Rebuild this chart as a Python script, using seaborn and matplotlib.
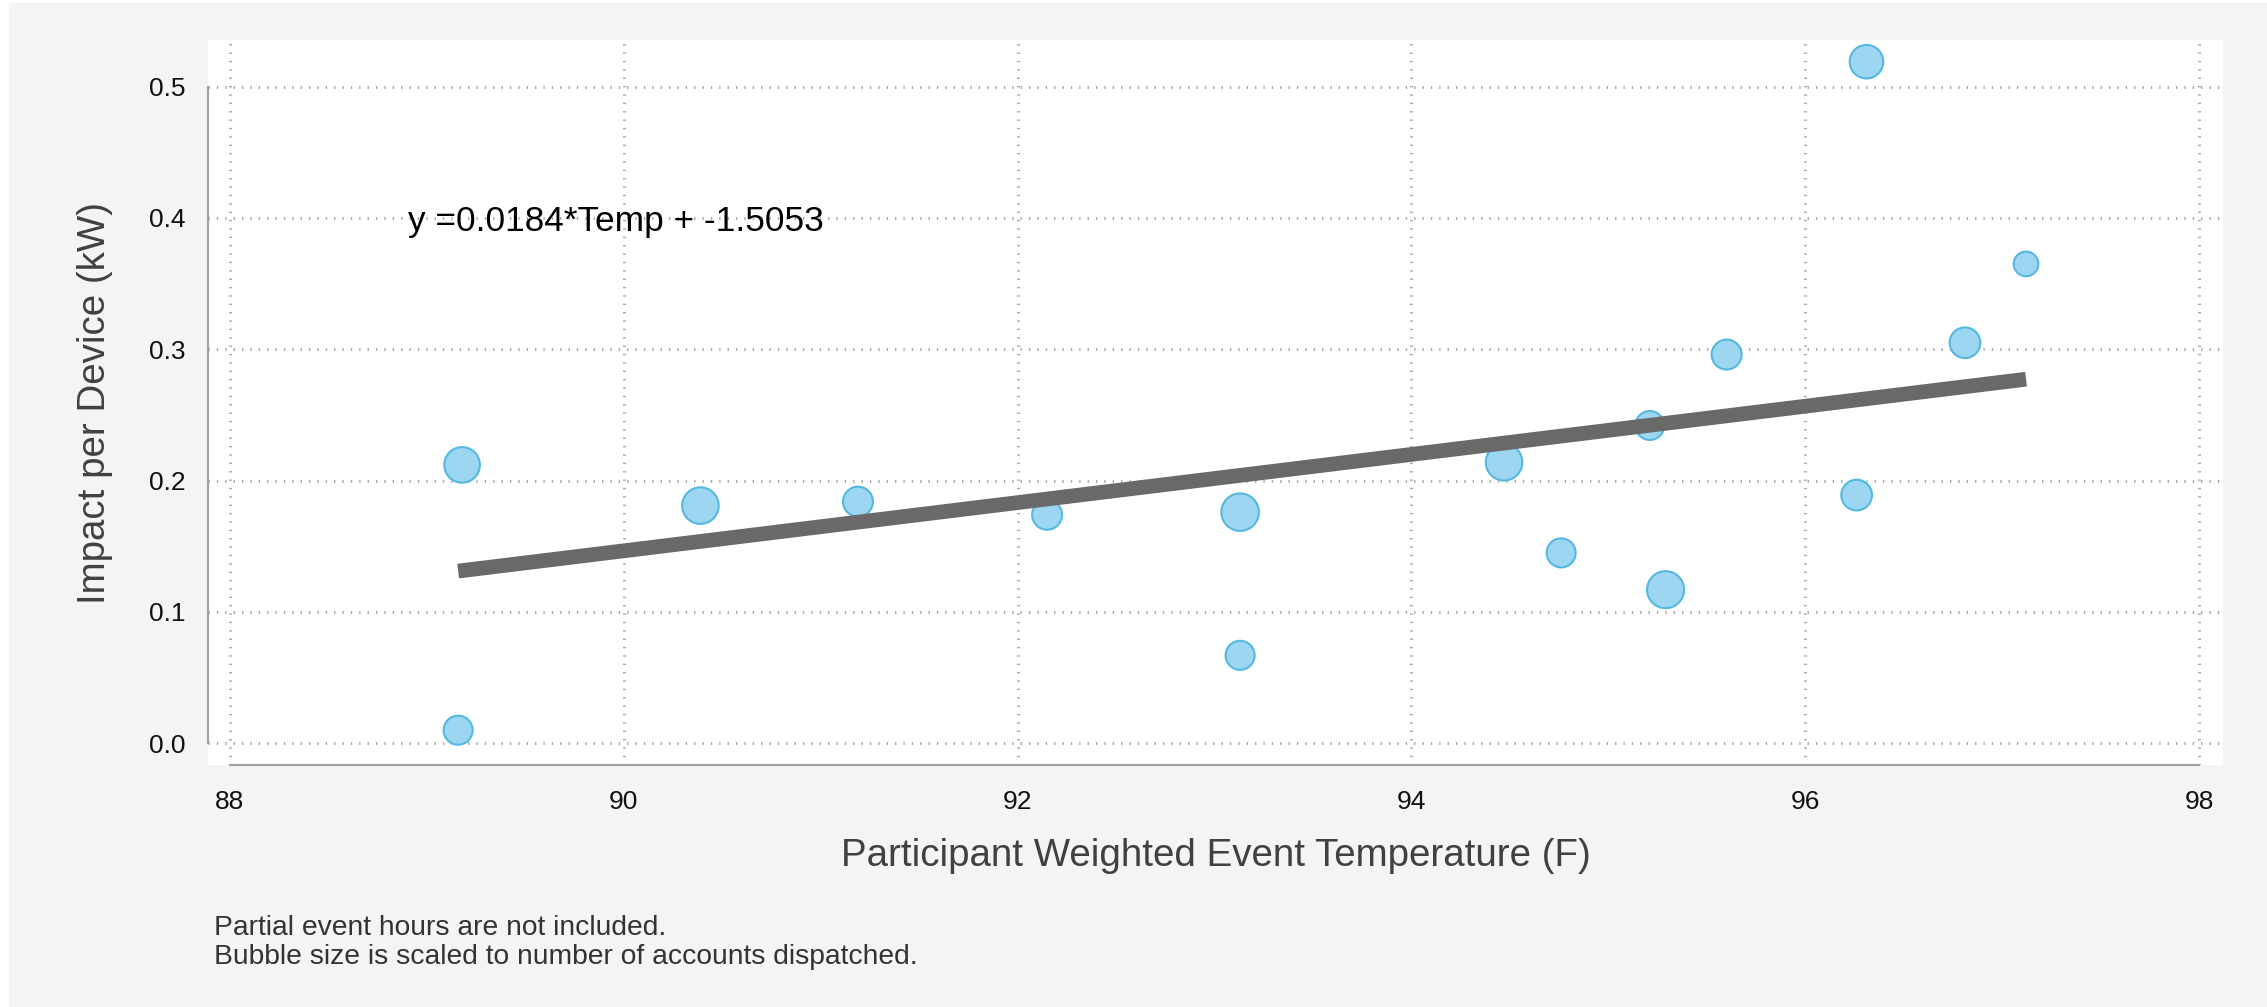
import numpy as np
import pandas as pd
import matplotlib
matplotlib.use("Agg")
import matplotlib.pyplot as plt
from matplotlib.patches import Rectangle
import seaborn as sns

# --- Дані ---
event_temp = [89.18, 89.16, 90.39, 91.19, 92.15, 93.13, 93.13, 94.47, 94.76,
              95.21, 95.29, 95.60, 96.26, 96.31, 96.81, 97.12]
impact_kw = [0.212, 0.010, 0.181, 0.184, 0.174, 0.176, 0.067, 0.214, 0.145,
             0.242, 0.117, 0.296, 0.189, 0.519, 0.305, 0.365]
# відносна кількість акаунтів (за площею бульбашок)
accounts = [1440, 960, 1520, 1020, 1020, 1600, 960, 1520, 960,
            950, 1560, 1020, 1070, 1280, 1070, 690]

fit_slope = 0.018354
fit_intercept = -1.5053

x_ticks = [88, 90, 92, 94, 96, 98]
y_ticks = [0.0, 0.1, 0.2, 0.3, 0.4, 0.5]

x_label = "Participant Weighted Event Temperature (F)"
y_label = "Impact per Device (kW)"
footnote = ("Partial event hours are not included.\n"
            "Bubble size is scaled to number of accounts dispatched.")

# --- Стиль ---
sns.set_style("white")
plt.rcParams['font.family'] = ['Liberation Sans', 'DejaVu Sans']

W, H = 2267, 1007
fig = plt.figure(figsize=(W / 100, H / 100), dpi=100)
fig.patch.set_facecolor('white')
fig.add_artist(Rectangle((9 / W, 0), 1 - 9 / W, 1 - 3 / H, transform=fig.transFigure,
                         facecolor='#f4f4f4', edgecolor='none', zorder=-10))

ax = fig.add_axes([208 / W, 1 - 765 / H, (2223 - 208) / W, (765 - 40) / H])
ax.set_facecolor('white')

df = pd.DataFrame({'temp': event_temp, 'impact': impact_kw, 'accounts': accounts})

# бульбашки
k = 0.456
sns.scatterplot(data=df, x='temp', y='impact', size='accounts',
                sizes=(k * min(accounts), k * max(accounts)),
                size_norm=(min(accounts), max(accounts)),
                color='#9dd6f0', edgecolor='#55b8e2', linewidth=1.5,
                legend=False, ax=ax, zorder=3)

# лінія регресії
fit_x = np.array([df['temp'].min(), df['temp'].max()])
fit_y = fit_slope * fit_x + fit_intercept
sns.lineplot(x=fit_x, y=fit_y, color='#696969', linewidth=10.6,
             solid_capstyle='butt', ax=ax, zorder=4)

ax.text(88.907, 0.397, f"y ={fit_slope:.4f}*Temp + {fit_intercept:.4f}",
        fontsize=25.4, ha='left', va='center', color='black')

# осі
ax.set_xlim(87.89, 98.12)
ax.set_ylim(-0.0165, 0.5355)
ax.set_xticks(x_ticks)
ax.set_yticks(y_ticks)
ax.set_xticklabels([str(t) for t in x_ticks])
ax.set_yticklabels([f"{t:.1f}" for t in y_ticks])

ax.grid(True, color='#ababab', linestyle=(0, (0.45, 2.29)), linewidth=2.2)
ax.set_axisbelow(True)

sns.despine(ax=ax)
ax.spines['left'].set_bounds(0, 0.5)
ax.spines['bottom'].set_bounds(88, 98)
for s in ['left', 'bottom']:
    ax.spines[s].set_color('#a0a0a0')
    ax.spines[s].set_linewidth(1.5)

ax.tick_params(axis='both', direction='out', length=9.4, width=1,
               color='#a0a0a0', labelsize=19, labelcolor='#111111')
ax.tick_params(axis='x', pad=8.3)
ax.tick_params(axis='y', pad=6.5)

ax.set_xlabel(x_label, fontsize=27.7, color='#404040')
ax.set_ylabel(y_label, fontsize=27.7, color='#404040')
ax.xaxis.set_label_coords(0.5, -0.1007)
ax.yaxis.set_label_coords(-0.047, 0.5)

fig.text(214 / W, 1 - 942.5 / H, footnote, fontsize=20.3, color='#333333',
         ha='left', va='center', linespacing=1.12)

fig.savefig('out.png', dpi=100)
